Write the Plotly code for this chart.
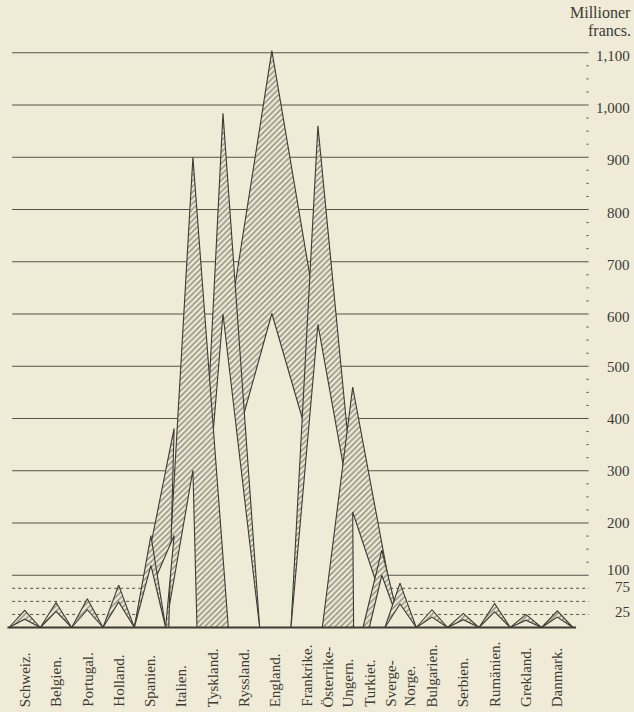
import plotly.graph_objects as go

# ---------------- data ----------------
countries = ["Schweiz.", "Belgien.", "Portugal.", "Holland.", "Spanien.", "Italien.",
             "Tyskland.", "Ryssland.", "England.", "Frankrike.", "Österrike-<br>Ungern.",
             "Turkiet.", "Sverge-<br>Norge.", "Bulgarien.", "Serbien.", "Rumänien.",
             "Grekland.", "Danmark."]
outer_vals = [33, 48, 55, 81, 176, 381, 900, 984, 1104, 960, 460, 148, 85, 34, 27, 46, 25, 32]
inner_vals = [16, 31, 34, 49, 119, 176, 301, 600, 601, 580, 221, 100, 45, 20, 15, 30, 14, 20]
# apex position along the row of slots and triangle bases (slot units)
apex_pos = [0.5, 1.5, 2.5, 3.5, 4.53, 5.27, 5.87, 6.83, 8.39, 9.86, 10.97, 11.9, 12.48,
            13.5, 14.5, 15.5, 16.5, 17.5]
outer_base = [(0, 1), (1, 2), (2, 3), (3, 4), (4, 5), (4, 5.1), (5, 7), (6, 8), (5.5, 11.5),
              (9, 11.4), (10, 12.4), (11.3, 12.5), (12, 13), (13, 14), (14, 15), (15, 16), (16, 17), (17, 18)]
inner_base = [(0, 1), (1, 2), (2, 3), (3, 4), (4, 5), (4, 5.0), (5, 6), (6, 8), (5.6, 11.3),
              (9, 11.6), (11, 12.2), (11.5, 12.5), (12, 13), (13, 14), (14, 15), (15, 16), (16, 17), (17, 18)]
# drawing order, back to front
draw_order = ["England.", "Ryssland.", "Frankrike.", "Tyskland.", "Österrike-<br>Ungern.",
              "Italien.", "Turkiet.", "Spanien.", "Sverge-<br>Norge.", "Schweiz.", "Belgien.",
              "Portugal.", "Holland.", "Bulgarien.", "Serbien.", "Rumänien.", "Grekland.", "Danmark."]
grid_solid = [100, 200, 300, 400, 500, 600, 700, 800, 900, 1000, 1100]
grid_dotted = [25, 50, 75]
minor_ticks = [v for v in range(125, 1100, 25) if v % 100 != 0]
tick_values = [1100, 1000, 900, 800, 700, 600, 500, 400, 300, 200, 100, 75, 25]
tick_texts = ["1,100", "1,000", "900", "800", "700", "600", "500", "400", "300", "200", "100", "75", "25"]

# ---------------- style ----------------
BG = "#efebd7"
INK = "#3c3a33"
FONT = "Liberation Serif"
PX = 31.33          # pixels per slot
PY = 0.5225         # pixels per million
X0 = 9              # pixel of slot boundary 0
Y0 = 627.5          # pixel of value 0
W, H = 634, 712

x_rng = [-X0 / PX, (W - X0) / PX]
y_rng = [-(H - Y0) / PY, Y0 / PY]

fig = go.Figure()

for name in draw_order:
    i = countries.index(name)
    a = apex_pos[i]
    L, R = outer_base[i]
    l, r = inner_base[i]
    # outer triangle, hatched, opaque
    fig.add_trace(go.Scatter(x=[L, a, R, L], y=[0, outer_vals[i], 0, 0],
                             mode="lines", fill="toself", fillcolor=BG,
                             fillpattern=dict(shape="/", fgcolor="#3f3d36", bgcolor=BG,
                                              size=4, solidity=0.4),
                             line=dict(color=INK, width=1.1),
                             hoverinfo="skip", showlegend=False))
    # inner triangle, plain
    fig.add_trace(go.Scatter(x=[l, a, r, l], y=[0, inner_vals[i], 0, 0],
                             mode="lines", fill="toself", fillcolor=BG,
                             line=dict(color=INK, width=1.1),
                             hoverinfo="skip", showlegend=False))

shapes = []
for v in grid_solid:
    shapes.append(dict(type="line", x0=0.1, x1=18.5, y0=v, y1=v, layer="below",
                       line=dict(color="#55524a", width=1)))
for v in grid_dotted:
    shapes.append(dict(type="line", x0=0.1, x1=18.5, y0=v, y1=v, layer="below",
                       line=dict(color="#55524a", width=1, dash="dot")))
for v in minor_ticks:
    shapes.append(dict(type="line", x0=18.43, x1=18.5, y0=v, y1=v, layer="below",
                       line=dict(color="#55524a", width=1)))
# baseline
shapes.append(dict(type="line", x0=-0.05, x1=18.1, y0=0, y1=0, layer="above",
                   line=dict(color=INK, width=1.8)))

annotations = []
tick_shift = {500: -2, 400: 0, 300: 0, 200: 0, 100: 10, 75: 3, 25: 4}
for v, t in zip(tick_values, tick_texts):
    annotations.append(dict(x=(632 - X0) / PX, y=v + tick_shift.get(v, -6), text=t,
                            xanchor="right", yanchor="middle",
                            showarrow=False, font=dict(family=FONT, size=15, color=INK)))
annotations.append(dict(x=(633 - X0) / PX, y=(Y0 - 12) / PY, text="Millioner", xanchor="right",
                        yanchor="middle", showarrow=False, font=dict(family=FONT, size=16, color=INK)))
annotations.append(dict(x=(633 - X0) / PX, y=(Y0 - 30) / PY, text="francs.", xanchor="right",
                        yanchor="middle", showarrow=False, font=dict(family=FONT, size=16, color=INK)))
for i, c in enumerate(countries):
    annotations.append(dict(x=i + 0.5, y=-(709 - Y0) / PY, text=c, textangle=-90,
                            xanchor="center", yanchor="bottom", align="left", showarrow=False,
                            font=dict(family=FONT, size=15, color=INK)))

fig.update_layout(
    width=W, height=H, margin=dict(l=0, r=0, t=0, b=0),
    paper_bgcolor=BG, plot_bgcolor=BG,
    xaxis=dict(range=x_rng, visible=False, fixedrange=True),
    yaxis=dict(range=y_rng, visible=False, fixedrange=True),
    shapes=shapes, annotations=annotations, showlegend=False,
)
fig.write_html("out.html", config={"displayModeBar": False},
               post_script="document.body.style.margin='0';document.body.style.overflow='hidden';")
